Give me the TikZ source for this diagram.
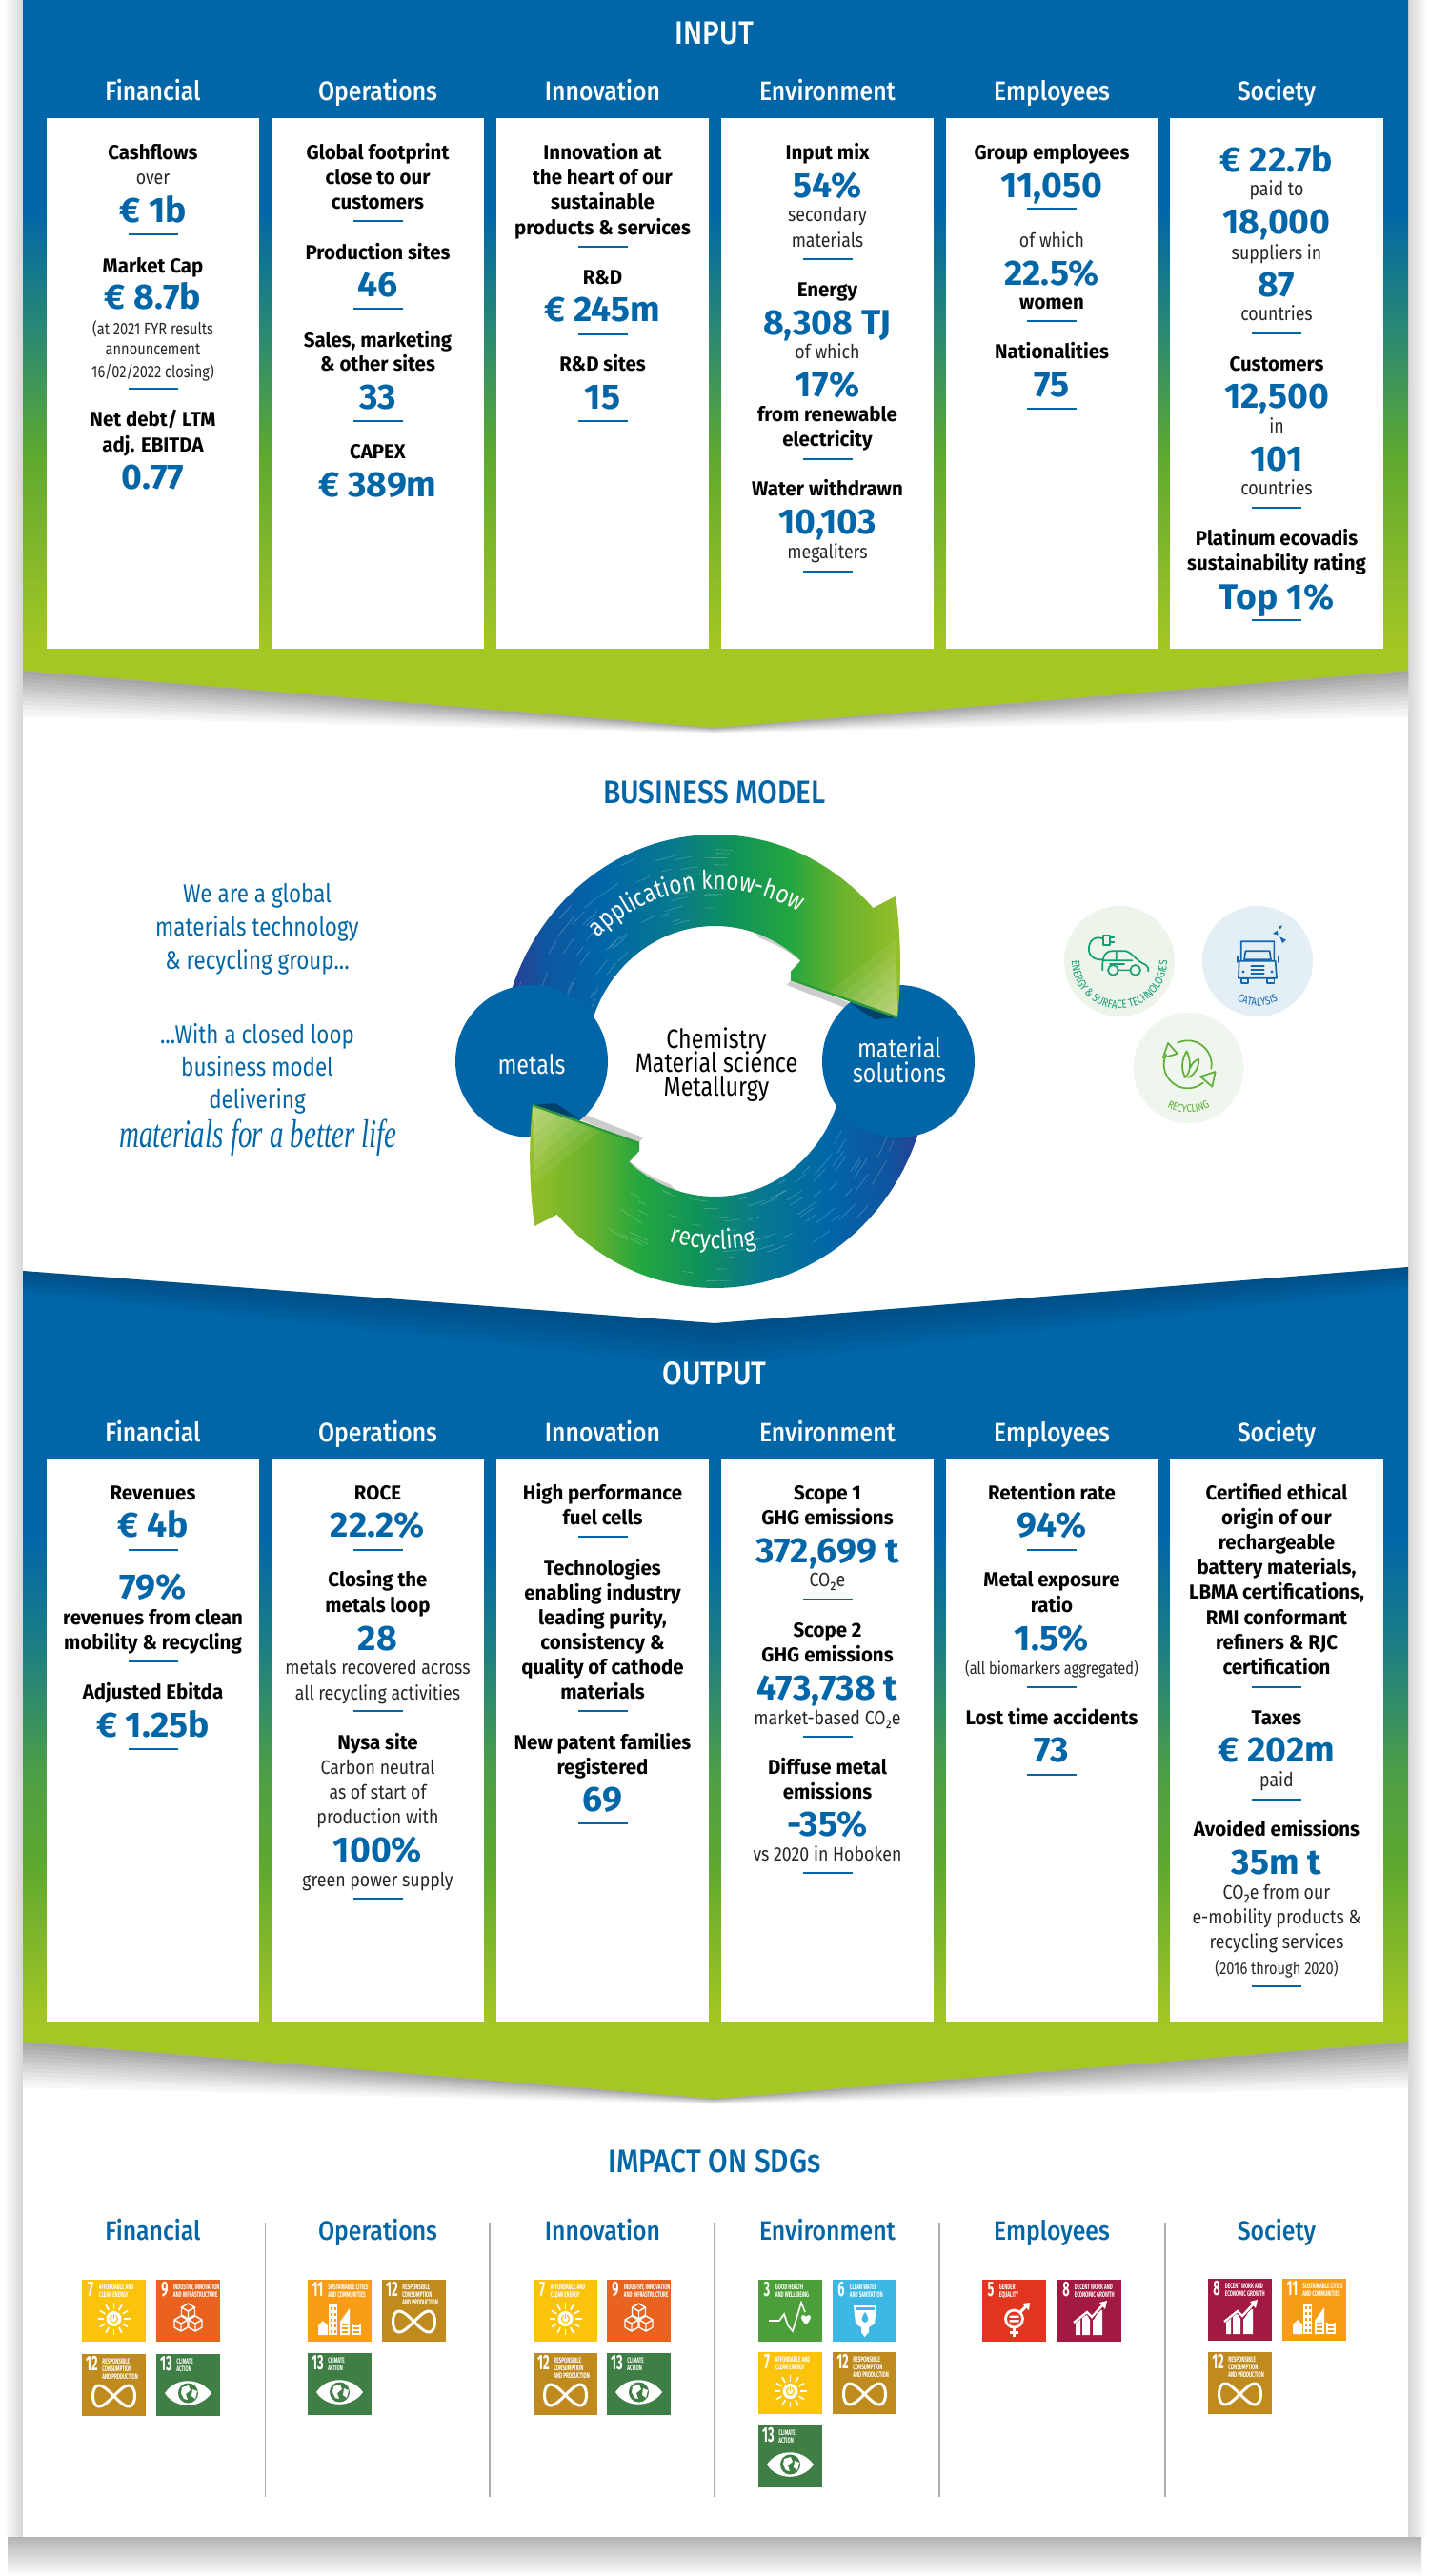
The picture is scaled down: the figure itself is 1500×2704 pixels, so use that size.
\documentclass[tikz,border=0pt]{standalone}
\usepackage{fontspec}
\usetikzlibrary{decorations.text}
\setmainfont{Fira Sans}
\newfontfamily\lblfont[FakeStretch=0.965]{Fira Sans}
\newfontfamily\txtfont[FakeStretch=0.87]{Fira Sans}
\newfontfamily\smlfont[FakeStretch=0.83]{Fira Sans}
\newfontfamily\hdfont[FakeStretch=0.885]{Fira Sans Medium}
\newfontfamily\ttlfont[FakeStretch=0.88]{Fira Sans Medium}
\newfontfamily\ringfont[FakeStretch=0.84]{Fira Sans}
\newfontfamily\numfont[FakeStretch=1.01]{Fira Sans}
\newfontfamily\tilefont[FakeStretch=0.58]{Fira Sans}
\newfontfamily\condfont[FakeStretch=0.83]{Fira Sans}
\newfontfamily\scriptfam[FakeStretch=0.69]{Liberation Serif}
\definecolor{ublue}{HTML}{0066A8}
\definecolor{txtgrey}{HTML}{262626}
\definecolor{sA}{HTML}{A5C724}
\definecolor{sB}{HTML}{5FA92F}
\definecolor{sC}{HTML}{2A8A72}
\definecolor{sD}{HTML}{0066A8}
\definecolor{hA}{HTML}{2E3A94}
\definecolor{hB}{HTML}{0F559F}
\definecolor{hC}{HTML}{0066A8}
\definecolor{hD}{HTML}{06788F}
\definecolor{hE}{HTML}{119358}
\definecolor{hF}{HTML}{22A640}
\definecolor{hG}{HTML}{6BB22C}
\definecolor{hH}{HTML}{95BF28}
\definecolor{gY}{HTML}{FCC30B}
\definecolor{gO}{HTML}{E9631E}
\definecolor{gB}{HTML}{BF8B1E}
\definecolor{gG}{HTML}{3F7E44}
\definecolor{gS}{HTML}{F99D16}
\definecolor{gH}{HTML}{4C9F38}
\definecolor{gW}{HTML}{3DB8E4}
\definecolor{gR}{HTML}{E2351F}
\definecolor{gM}{HTML}{A21942}
\pgfdeclareverticalshading{inputsh}{100bp}{color(0bp)=(sA); color(30.5bp)=(sA); color(43.6bp)=(sB); color(52.1bp)=(sC); color(60.6bp)=(sD); color(100bp)=(sD)}
\pgfdeclareverticalshading{outputsh}{100bp}{color(0bp)=(sA); color(29.6bp)=(sA); color(38.9bp)=(sB); color(44.7bp)=(sC!35!sB); color(52bp)=(sC!70!sD); color(59bp)=(sD); color(100bp)=(sD)}
\pgfdeclarehorizontalshading{upsh}{100bp}{color(0bp)=(hA); color(25bp)=(hA); color(30bp)=(hB); color(37.2bp)=(hC); color(45.7bp)=(hD); color(54.2bp)=(hE); color(60.8bp)=(hF); color(67.5bp)=(hG); color(75bp)=(hH); color(100bp)=(hH)}
\pgfdeclarehorizontalshading{losh}{100bp}{color(0bp)=(hH); color(25bp)=(hH); color(32.5bp)=(hG); color(39.2bp)=(hF); color(45.8bp)=(hE); color(54.3bp)=(hD); color(62.8bp)=(hC); color(70bp)=(hB); color(75bp)=(hA); color(100bp)=(hA)}
\newcounter{nn}
\tikzset{
 lbl/.style={font=\lblfont\bfseries\fontsize{10.6}{12}\selectfont,text=black,inner sep=0pt,anchor=base},
 num/.style={font=\numfont\bfseries\fontsize{18.5}{20}\selectfont,text=ublue,inner sep=0pt,anchor=base},
 txt/.style={font=\txtfont\fontsize{10.2}{12}\selectfont,text=txtgrey,inner sep=0pt,anchor=base},
 sml/.style={font=\smlfont\fontsize{8.8}{11}\selectfont,text=txtgrey,inner sep=0pt,anchor=base},
 hdr/.style={font=\hdfont\fontsize{14}{16}\selectfont,text=white,inner sep=0pt,anchor=base},
 shd/.style={font=\hdfont\fontsize{14}{16}\selectfont,text=ublue,inner sep=0pt,anchor=base},
 ttl/.style={font=\ttlfont\fontsize{17}{19}\selectfont,inner sep=0pt,anchor=base},
 side/.style={font=\condfont\fontsize{13.5}{15}\selectfont,text=ublue,inner sep=0pt,anchor=base},
 mid/.style={font=\condfont\fontsize{14}{16}\selectfont,inner sep=0pt,anchor=base},
 rulel/.style={ublue,line width=0.6pt},
 cardbox/.style={fill=white},
 tnum/.style={font=\tilefont\bfseries\fontsize{11}{12}\selectfont,text=white,inner sep=0pt,anchor=base},
 ttxt/.style={font=\tilefont\bfseries\fontsize{4}{4}\selectfont,text=white,inner sep=0pt,anchor=north west,align=left},
 tic/.style={white,line width=0.7pt},
 grn/.style={draw=#1,line width=0.85pt,line cap=round,line join=round},
}
\newcommand\Nd[4]{\stepcounter{nn}\node[#1] (n\arabic{nn}) at (#2,#3) {#4};}
\newcommand\Lb[3]{\Nd{lbl}{#1}{#2+7}{#3}}
\newcommand\Nm[3]{\Nd{num}{#1}{#2+13}{#3}}
\newcommand\Tx[3]{\Nd{txt}{#1}{#2+6}{#3}}
\newcommand\Sm[3]{\Nd{sml}{#1}{#2+6}{#3}}
\newcommand\Rl[2]{\draw[rulel] (#1-26,#2) -- (#1+26,#2);}
% icons, in tile coordinates
\newcommand\icsun{\foreach \a in {0,30,...,330}{\draw[tic,line width=0.8pt] ({33.5+10.5*cos(\a)},{41+10.5*sin(\a)}) -- ({33.5+17*cos(\a)},{41+17*sin(\a)});}
 \fill[white] (33.5,41) circle[radius=8]; \draw[gY,line width=0.6pt] (33.5,41) circle[radius=4]; \draw[white,line width=1.2pt] (33.5,35.5)--(33.5,39.5); \draw[gY,line width=0.5pt] (33.5,36)--(33.5,41);}
\newcommand\cube[2]{\begin{scope}[shift={(#1,#2)}]\draw[tic,line join=round] (0,-8)--(7,-4)--(7,4)--(0,8)--(-7,4)--(-7,-4)--cycle (0,0)--(7,-4) (0,0)--(-7,-4) (0,0)--(0,8);\end{scope}}
\newcommand\iccubes{\cube{33.5}{33}\cube{26}{46}\cube{41}{46}}
\newcommand\icinf{\draw[white,line width=1.5pt] plot[smooth cycle,samples=49,domain=0:352] ({33.5+22*cos(\x)},{44+11*sin(2*\x)});}
\newcommand\iceye{\fill[white] (9,41) .. controls (20,24) and (46,24) .. (58,41) .. controls (46,58) and (20,58) .. (9,41) -- cycle;
 \fill[gG] (33.5,41) circle[radius=10.5]; \fill[white] (27,35) -- (34,33) -- (36,38) -- (31,42) -- (33,48) -- (29,47) -- (26,41) -- cycle; \fill[white] (38,37) -- (43,39) -- (41,47) -- (37,44) -- cycle;}
\newcommand\icbuild{\fill[white] (11,48)--(16,43)--(21,48)--(21,58)--(11,58)--cycle; \fill[white] (22,26) rectangle (31,58); \fill[white] (34,58)--(34,44)--(44,30)--(44,58)--cycle; \fill[white] (46,46) rectangle (56,58);
 \foreach \yy in {29,35,41,47,53}{\fill[gS] (24,\yy) rectangle (26,\yy+3); \fill[gS] (27.5,\yy) rectangle (29.5,\yy+3);}
 \foreach \yy in {46,50,54}{\fill[gS] (36,\yy) rectangle (42,\yy+2); \fill[gS] (48,\yy) rectangle (54,\yy+2);}}
\newcommand\icheart{\draw[tic,line width=0.8pt,line join=miter] (11,43)--(22,43)--(27,36)--(31,48)--(36,54)--(45,24)--(49,34); \fill[white] (50,47) .. controls (44,42) and (44,37) .. (47,37) .. controls (49,37) and (50,39) .. (50,39) .. controls (50,39) and (51,37) .. (53,37) .. controls (56,37) and (56,42) .. (50,47) -- cycle;}
\newcommand\icdrop{\fill[white] (22,27)--(46,27)--(44,46)--(38,50)--(38,55)--(33.5,60)--(30,55)--(30,50)--(24,46)--cycle; \fill[gW] (24,29) rectangle (44,31.5); \fill[gW] (34,34) .. controls (30,40) and (29,43) .. (34,45) .. controls (39,43) and (38,40) .. (34,34) -- cycle;}
\newcommand\icgender{\draw[white,line width=1.4pt] (33.5,41) circle[radius=9]; \draw[white,line width=1.5pt] (39.5,34.5)--(48,26); \fill[white] (42,25)--(50,24)--(49,32)--cycle; \draw[white,line width=1.5pt] (33.5,50)--(33.5,60) (29,55)--(38,55); \fill[white] (28.5,37.5) rectangle (38.5,39.8) (28.5,42.2) rectangle (38.5,44.5);}
\newcommand\icchart{\fill[white] (19,45)--(24,41)--(24,58)--(19,58)--cycle (26,39)--(31,37)--(34,42)--(34,58)--(26,58)--cycle (37,42)--(38,42)--(44,32)--(47,32)--(47,58)--(37,58)--cycle; \draw[gM,line width=1.6pt] (17,45)--(31,34)--(36,39)--(49,26); \draw[white,line width=1.2pt] (17,45)--(31,34)--(36,39)--(48,26); \fill[white] (44,24)--(52,22)--(50,31)--cycle;}
\newcommand\tile[6]{\begin{scope}[shift={(#1,#2)}]
 \fill[#3] (0,0) rectangle (67,65);
 \ifnum#4>9\relax\Nd{tnum}{10.5}{17}{#4}\stepcounter{nn}\node[ttxt] (n\arabic{nn}) at (21,4) {#5};\else\Nd{tnum}{9}{17}{#4}\stepcounter{nn}\node[ttxt] (n\arabic{nn}) at (17.5,4) {#5};\fi
 #6
\end{scope}}
\newcommand\tseven[2]{\tile{#1}{#2}{gY}{7}{AFFORDABLE AND\\CLEAN ENERGY}{\icsun}}
\newcommand\tnine[2]{\tile{#1}{#2}{gO}{9}{INDUSTRY, INNOVATION\\AND INFRASTRUCTURE}{\iccubes}}
\newcommand\ttwelve[2]{\tile{#1}{#2}{gB}{12}{RESPONSIBLE\\CONSUMPTION\\AND PRODUCTION}{\icinf}}
\newcommand\tthirteen[2]{\tile{#1}{#2}{gG}{13}{CLIMATE\\ACTION}{\iceye}}
\newcommand\televen[2]{\tile{#1}{#2}{gS}{11}{SUSTAINABLE CITIES\\AND COMMUNITIES}{\icbuild}}
\newcommand\tthree[2]{\tile{#1}{#2}{gH}{3}{GOOD HEALTH\\AND WELL-BEING}{\icheart}}
\newcommand\tsix[2]{\tile{#1}{#2}{gW}{6}{CLEAN WATER\\AND SANITATION}{\icdrop}}
\newcommand\tfive[2]{\tile{#1}{#2}{gR}{5}{GENDER\\EQUALITY}{\icgender}}
\newcommand\teight[2]{\tile{#1}{#2}{gM}{8}{DECENT WORK AND\\ECONOMIC GROWTH}{\icchart}}
\newcommand\vshadow[2]{\foreach \d/\g in {48/3,44/5,40/8,36/11,32/14,28/17,24/20,20/23,16/26,12/29,8/32,4/35}{\fill[black!\g] (24,#1)--(750,#2)--(1478,#1)--(1478,#1+\d)--(750,#2+0.12*\d)--(24,#1+\d)--cycle;}}
\newcommand\uparrowpath{plot[domain=170:42.5,samples=50] ({750.5+225*cos(\x)},{1114-238*sin(\x)}) -- (940,941) .. controls (946,985) and (946,1030) .. (942,1068) -- (830,1028) -- (830,1020) -- (841,1008) -- plot[domain=48.3:170,samples=50] ({750.5+135*cos(\x)},{1114-142*sin(\x)}) -- cycle}
\newcommand\loarrowpath{plot[domain=350:222.5,samples=50] ({750.5+225*cos(\x)},{1114-238*sin(\x)}) -- (561,1287) .. controls (555,1243) and (555,1198) .. (559,1160) -- (671,1200) -- (671,1208) -- (660,1220) -- plot[domain=228.3:350,samples=50] ({750.5+135*cos(\x)},{1114-142*sin(\x)}) -- cycle}
\begin{document}
\begin{tikzpicture}[x=0.5pt,y=-0.5pt]
\useasboundingbox (0,0) rectangle (1500,2704);
\fill[white] (0,0) rectangle (1500,2704);
% sheet shadows
\shade[left color=white,right color=black!16] (4,0) rectangle (24,2663);
\shade[left color=black!16,right color=white] (1478,0) rectangle (1498,2663);
\shade[top color=black!30,bottom color=white] (8,2663) rectangle (1492,2704);
\fill[white] (24,0) rectangle (1478,2663);
\vshadow{704}{764}
\vshadow{2143}{2203}
% input panel
\path[shading=inputsh] (24,0) -- (1478,0) -- (1478,704) -- (750,764) -- (24,704) -- cycle;
% output panel
\path[shading=outputsh] (24,1334) -- (750,1389) -- (1478,1330) -- (1478,2143) -- (750,2203) -- (24,2143) -- cycle;
\foreach \d in {6,12,...,48}{\fill[black,opacity=0.025] (24,1334) -- (750,1389) -- (1478,1330) -- (1478,1330+\d*0.5) -- (750,1389+\d) -- (24,1334+\d*0.5) -- cycle;}
% cards
\foreach \a/\b in {49/272,285/508,521/744,757/980,993/1215,1228/1452}{
 \fill[cardbox] (\a,124) rectangle (\b,681);
 \fill[cardbox] (\a,1532) rectangle (\b,2122);
}
% titles
\Nd{ttl,text=white}{750}{46}{INPUT}
\Nd{ttl,text=white}{750}{1453}{OUTPUT}
\Nd{ttl,text=ublue}{750}{843}{BUSINESS MODEL}
\Nd{ttl,text=ublue}{750}{2280}{IMPACT ON SDGs}
\foreach \cc/\tt in {160.5/Financial,396.5/Operations,632.5/Innovation,868.5/Environment,1104/Employees,1340/Society}{
 \Nd{hdr}{\cc}{105}{\tt}
 \Nd{hdr}{\cc}{1513}{\tt}
 \Nd{shd}{\cc}{2351}{\tt}
}
\foreach \xx in {278.6,514,750,986,1223}{\draw[black!32,line width=0.7pt] (\xx,2333) -- (\xx,2621);}
% ---- INPUT
\def\c{160.5}
\Lb{\c}{160}{Cashflows}\Tx{\c}{187}{over}\Nm{\c}{220}{€ 1b}\Rl{\c}{246}
\Lb{\c}{279}{Market Cap}\Nm{\c}{311}{€ 8.7b}\Sm{\c}{345}{(at 2021 FYR results}\Sm{\c}{366}{announcement}\Sm{\c}{390}{16/02/2022 closing)}\Rl{\c}{408}
\Lb{\c}{440}{Net debt/ LTM}\Lb{\c}{467}{adj. EBITDA}\Nm{\c}{500}{0.77}
\def\c{396.5}
\Lb{\c}{160}{Global footprint}\Lb{\c}{186}{close to our}\Lb{\c}{212}{customers}\Rl{\c}{232}
\Lb{\c}{265}{Production sites}\Nm{\c}{298}{46}\Rl{\c}{324}
\Lb{\c}{357}{Sales, marketing}\Lb{\c}{382}{\& other sites}\Nm{\c}{416}{33}\Rl{\c}{442}
\Lb{\c}{474}{CAPEX}\Nm{\c}{508}{€ 389m}
\def\c{632.5}
\Lb{\c}{160}{Innovation at}\Lb{\c}{186}{the heart of our}\Lb{\c}{212}{sustainable}\Lb{\c}{239}{products \& services}\Rl{\c}{259}
\Lb{\c}{291}{R\&D}\Nm{\c}{324}{€ 245m}\Rl{\c}{351}
\Lb{\c}{382}{R\&D sites}\Nm{\c}{416}{15}\Rl{\c}{442}
\def\c{868.5}
\Lb{\c}{160}{Input mix}\Nm{\c}{194}{54\%}\Tx{\c}{226}{secondary}\Tx{\c}{253}{materials}\Rl{\c}{272}
\Lb{\c}{304}{Energy}\Nm{\c}{338}{8,308 TJ}\Tx{\c}{370}{of which}\Nm{\c}{403}{17\%}\Lb{\c}{435}{from renewable}\Lb{\c}{461}{electricity}\Rl{\c}{482}
\Lb{\c}{513}{Water withdrawn}\Nm{\c}{547}{10,103}\Tx{\c}{580}{megaliters}\Rl{\c}{600}
\def\c{1104}
\Lb{\c}{160}{Group employees}\Nm{\c}{194}{11,050}\Rl{\c}{219}
\Tx{\c}{253}{of which}\Nm{\c}{286}{22.5\%}\Lb{\c}{317}{women}\Rl{\c}{337}
\Lb{\c}{369}{Nationalities}\Nm{\c}{403}{75}\Rl{\c}{429}
\def\c{1340}
\Nm{\c}{167}{€ 22.7b}\Tx{\c}{199}{paid to}\Nm{\c}{232}{18,000}\Tx{\c}{266}{suppliers in}\Nm{\c}{298}{87}\Tx{\c}{330}{countries}\Rl{\c}{350}
\Lb{\c}{382}{Customers}\Nm{\c}{415}{12,500}\Tx{\c}{448}{in}\Nm{\c}{481}{101}\Tx{\c}{513}{countries}\Rl{\c}{533}
\Lb{\c}{565}{Platinum ecovadis}\Lb{\c}{591}{sustainability rating}\Nm{\c}{626}{Top 1\%}\Rl{\c}{651}
% ---- OUTPUT
\def\c{160.5}
\Lb{\c}{1567}{Revenues}\Nm{\c}{1600}{€ 4b}\Rl{\c}{1627}
\Nm{\c}{1665}{79\%}\Lb{\c}{1698}{revenues from clean}\Lb{\c}{1724}{mobility \& recycling}\Rl{\c}{1744}
\Lb{\c}{1776}{Adjusted Ebitda}\Nm{\c}{1810}{€ 1.25b}\Rl{\c}{1836}
\def\c{396.5}
\Lb{\c}{1567}{ROCE}\Nm{\c}{1600}{22.2\%}\Rl{\c}{1627}
\Lb{\c}{1658}{Closing the}\Lb{\c}{1685}{metals loop}\Nm{\c}{1719}{28}\Tx{\c}{1751}{metals recovered across}\Tx{\c}{1778}{all recycling activities}\Rl{\c}{1796}
\Lb{\c}{1829}{Nysa site}\Tx{\c}{1856}{Carbon neutral}\Tx{\c}{1882}{as of start of}\Tx{\c}{1908}{production with}\Nm{\c}{1941}{100\%}\Tx{\c}{1974}{green power supply}\Rl{\c}{1993}
\def\c{632.5}
\Lb{\c}{1567}{High performance}\Lb{\c}{1593}{fuel cells}\Rl{\c}{1613}
\Lb{\c}{1646}{Technologies}\Lb{\c}{1672}{enabling industry}\Lb{\c}{1698}{leading purity,}\Lb{\c}{1724}{consistency \&}\Lb{\c}{1750}{quality of cathode}\Lb{\c}{1776}{materials}\Rl{\c}{1796}
\Lb{\c}{1829}{New patent families}\Lb{\c}{1855}{registered}\Nm{\c}{1888}{69}\Rl{\c}{1914}
\def\c{868.5}
\Lb{\c}{1567}{Scope 1}\Lb{\c}{1593}{GHG emissions}\Nm{\c}{1627}{372,699 t}\Tx{\c}{1659}{CO₂e}\Rl{\c}{1679}
\Lb{\c}{1711}{Scope 2}\Lb{\c}{1737}{GHG emissions}\Nm{\c}{1771}{473,738 t}\Tx{\c}{1804}{market-based CO₂e}\Rl{\c}{1823}
\Lb{\c}{1855}{Diffuse metal}\Lb{\c}{1881}{emissions}\Nm{\c}{1914}{-35\%}\Tx{\c}{1947}{vs 2020 in Hoboken}\Rl{\c}{1966}
\def\c{1104}
\Lb{\c}{1567}{Retention rate}\Nm{\c}{1600}{94\%}\Rl{\c}{1627}
\Lb{\c}{1658}{Metal exposure}\Lb{\c}{1685}{ratio}\Nm{\c}{1719}{1.5\%}\Sm{\c}{1751}{(all biomarkers aggregated)}\Rl{\c}{1771}
\Lb{\c}{1803}{Lost time accidents}\Nm{\c}{1836}{73}\Rl{\c}{1863}
\def\c{1340}
\Lb{\c}{1567}{Certified ethical}\Lb{\c}{1593}{origin of our}\Lb{\c}{1619}{rechargeable}\Lb{\c}{1645}{battery materials,}\Lb{\c}{1671}{LBMA certifications,}\Lb{\c}{1698}{RMI conformant}\Lb{\c}{1724}{refiners \& RJC}\Lb{\c}{1750}{certification}\Rl{\c}{1771}
\Lb{\c}{1803}{Taxes}\Nm{\c}{1836}{€ 202m}\Tx{\c}{1869}{paid}\Rl{\c}{1889}
\Lb{\c}{1920}{Avoided emissions}\Nm{\c}{1954}{35m t}\Tx{\c}{1987}{CO₂e from our}\Tx{\c}{2013}{e-mobility products \&}\Tx{\c}{2039}{recycling services}\Sm{\c}{2066}{(2016 through 2020)}\Rl{\c}{2085}
% ---- business model left text
\Nd{side}{270}{947}{We are a global}
\Nd{side}{270}{982}{materials technology}
\Nd{side}{270}{1017}{\& recycling group...}
\Nd{side}{270}{1095}{...With a closed loop}
\Nd{side}{270}{1129}{business model}
\Nd{side}{270}{1163}{delivering}
\stepcounter{nn}\node[font=\scriptfam\itshape\fontsize{21}{23}\selectfont,text=ublue,inner sep=0pt,anchor=base] (n\arabic{nn}) at (271,1204) {materials for a better life};
% ---- ring shadows
\fill[black!20] plot[domain=72:48,samples=20] ({756+135*cos(\x)},{1120-142*sin(\x)}) -- (836,1022) -- (826,1034) -- (892,1060) -- (900,1056) -- (830,1028) -- (830,1020) -- (841,1008) -- plot[domain=48.3:72,samples=20] ({750.5+135*cos(\x)},{1114-142*sin(\x)}) -- cycle;
\fill[black!20] plot[domain=252:228,samples=20] ({745+135*cos(\x)},{1108-142*sin(\x)}) -- (665,1206) -- (675,1194) -- (609,1168) -- (601,1172) -- (671,1200) -- (671,1208) -- (660,1220) -- plot[domain=228.3:252,samples=20] ({750.5+135*cos(\x)},{1114-142*sin(\x)}) -- cycle;
% upper arrow
\path[shading=upsh] \uparrowpath;
\pgfmathsetseed{11}
\foreach \i in {1,...,55}{
 \pgfmathsetmacro\tt{85+rnd*75}\pgfmathsetmacro\ff{0.05+rnd*0.9}\pgfmathsetmacro\sp{3+rnd*5}
 \pgfmathsetmacro\rx{135+\ff*90}\pgfmathsetmacro\ry{142+\ff*96}
 \draw[white,opacity=0.22,line width=0.35pt] ({750.5+\rx*cos(\tt)},{1114-\ry*sin(\tt)}) -- ({750.5+\rx*cos(\tt+\sp)},{1114-\ry*sin(\tt+\sp)});
}
% metals circle above the tail of the upper arrow
\fill[ublue] (558,1114) circle[radius=80];
\fill[black!80!ublue,opacity=0.45] (609,1175) -- (583,1158) -- (559,1160) -- cycle;
% lower arrow
\path[shading=losh] \loarrowpath;
\foreach \i in {1,...,75}{
 \pgfmathsetmacro\tt{235+rnd*115}\pgfmathsetmacro\ff{0.05+rnd*0.9}\pgfmathsetmacro\sp{3+rnd*5}
 \pgfmathsetmacro\rx{135+\ff*90}\pgfmathsetmacro\ry{142+\ff*96}
 \draw[white,opacity=0.22,line width=0.35pt] ({750.5+\rx*cos(\tt)},{1114-\ry*sin(\tt)}) -- ({750.5+\rx*cos(\tt+\sp)},{1114-\ry*sin(\tt+\sp)});
}
\foreach \s in {0.15,0.25,...,0.75}{\fill[white,opacity=0.07] (559,1160) -- ({559+\s*(671-559)},{1160+\s*(1200-1160)}) -- ({559+\s*(561-559)},{1160+\s*(1287-1160)}) -- cycle;}
\draw[black!10!hF!80!hG,line width=1.2pt] (559,1160) -- (671,1200);
% material solutions circle, then the head of the upper arrow above it
\fill[ublue] (943,1114) circle[radius=80];
\fill[black!80!ublue,opacity=0.45] (892,1053) -- (918,1070) -- (942,1068) -- cycle;
\begin{scope}
 \clip (800,930) rectangle (960,1075);
 \path[shading=upsh] \uparrowpath;
\end{scope}
\foreach \s in {0.15,0.25,...,0.75}{\fill[white,opacity=0.07] (942,1068) -- ({942+\s*(830-942)},{1068+\s*(1028-1068)}) -- ({942+\s*(940-942)},{1068+\s*(941-1068)}) -- cycle;}
\draw[black!10!hF!80!hG,line width=1.2pt] (942,1068) -- (830,1028);
% ring and circle text
\path[decorate,decoration={text along path,text align=center,text={|\ringfont\fontsize{13.5}{15}\selectfont\color{white}|application know-how}}] plot[domain=160:34,samples=50] ({750.5+176*cos(\x)},{1114-181*sin(\x)});
\path[decorate,decoration={text along path,text align=center,text={|\ringfont\fontsize{13.5}{15}\selectfont\color{white}|recycling}}] plot[domain=228:308,samples=40] ({755+190*cos(\x)},{1114-197*sin(\x)});
\Nd{mid,text=white}{558}{1127}{metals}
\Nd{mid,text=white}{944}{1110}{material}
\Nd{mid,text=white}{944}{1136}{solutions}
\Nd{mid,text=black}{752}{1100}{Chemistry}
\Nd{mid,text=black}{752}{1125}{Material science}
\Nd{mid,text=black}{752}{1150}{Metallurgy}
% small segment circles
\fill[gH!10!white] (1175,1009) circle[radius=58];
\fill[ublue!11!white] (1320,1009) circle[radius=58];
\fill[gH!9!white] (1247.5,1121) circle[radius=58];
\definecolor{carcol}{HTML}{159E73}\definecolor{reccol}{HTML}{5FAE35}\definecolor{trkcol}{HTML}{1467AE}
\path[decorate,decoration={text along path,text align=center,text={|\condfont\fontsize{6}{7}\selectfont\color{carcol}|ENERGY {\&} SURFACE TECHNOLOGIES}}] plot[domain=172:368,samples=60] ({1175+50*cos(\x)},{1009-50*sin(\x)});
\path[decorate,decoration={text along path,text align=center,text={|\condfont\fontsize{5.8}{7}\selectfont\color{trkcol}|CATALYSIS}}] plot[domain=225:315,samples=30] ({1320+47*cos(\x)},{1009-47*sin(\x)});
\path[decorate,decoration={text along path,text align=center,text={|\condfont\fontsize{5.8}{7}\selectfont\color{reccol}|RECYCLING}}] plot[domain=225:315,samples=30] ({1247.5+47*cos(\x)},{1121-47*sin(\x)});
\begin{scope}[shift={(1100,930)},x=0.16667pt,y=-0.16667pt]
 % car
 \draw[grn=carcol] (172,265) .. controls (170,235) and (175,205) .. (200,205) -- (245,205) .. controls (265,210) and (280,235) .. (295,242) .. controls (310,248) and (318,255) .. (316,268);
 \draw[grn=carcol] (205,265) circle[radius=16] (275,265) circle[radius=16] (222,265) -- (258,265) (215,205) -- (215,235) (172,235) -- (265,235) (195,246) -- (240,246);
 \draw[grn=carcol] (172,232) .. controls (130,235) and (120,200) .. (135,175) .. controls (145,160) and (165,160) .. (175,168);
 \draw[grn=carcol] (175,155) rectangle (195,185) (195,162) -- (208,162) (195,178) -- (208,178);
 % truck
 \draw[grn=trkcol] (608,232) -- (608,175) -- (712,175) -- (712,232) (622,205) -- (698,205) -- (702,232) -- (618,232) -- cycle;
 \draw[grn=trkcol] (602,236) -- (716,236) -- (720,290) -- (600,290) -- cycle;
 \draw[grn=trkcol] (608,290) rectangle (630,305) (690,290) rectangle (712,305) (596,222) -- (596,240) (724,222) -- (724,240) (640,252) -- (680,252) (640,264) -- (680,264) (640,276) -- (680,276);
 \fill[trkcol] (615,270) circle[radius=5] (705,270) circle[radius=5];
 \fill[trkcol] (708,150) -- (722,140) -- (725,155) -- cycle (725,128) -- (738,124) -- (732,136) -- cycle (730,160) -- (750,170) -- (738,180) -- cycle;
 % recycling
 \draw[grn=reccol] plot[domain=115:-10,samples=30] ({440+75*cos(\x)},{562-75*sin(\x)});
 \draw[grn=reccol] plot[domain=-50:-205,samples=30] ({440+75*cos(\x)},{562-75*sin(\x)});
 \draw[grn=reccol] (362,541) -- (378,495) -- (408,528) -- cycle (480,600) -- (527,585) -- (517,632) -- cycle;
 \draw[grn=reccol] (432,603) .. controls (415,570) and (425,540) .. (437,520) .. controls (450,550) and (452,585) .. (432,603) -- cycle;
 \draw[grn=reccol] (442,603) .. controls (470,590) and (475,560) .. (475,545) .. controls (462,550) and (452,560) .. (450,570);
\end{scope}
% ---- SDG tiles
\tseven{86}{2393}\tnine{164}{2393}\ttwelve{86}{2471}\tthirteen{164}{2471}
\televen{323}{2393}\ttwelve{401}{2393}\tthirteen{323}{2470}
\tseven{560}{2393}\tnine{637}{2393}\ttwelve{560}{2470}\tthirteen{637}{2470}
\tthree{796}{2393}\tsix{874}{2393}\tseven{796}{2469}\ttwelve{874}{2469}\tthirteen{796}{2546}
\tfive{1031}{2393}\teight{1110}{2393}
\teight{1268}{2392}\televen{1346}{2392}\ttwelve{1268}{2469}
\end{tikzpicture}
\end{document}
